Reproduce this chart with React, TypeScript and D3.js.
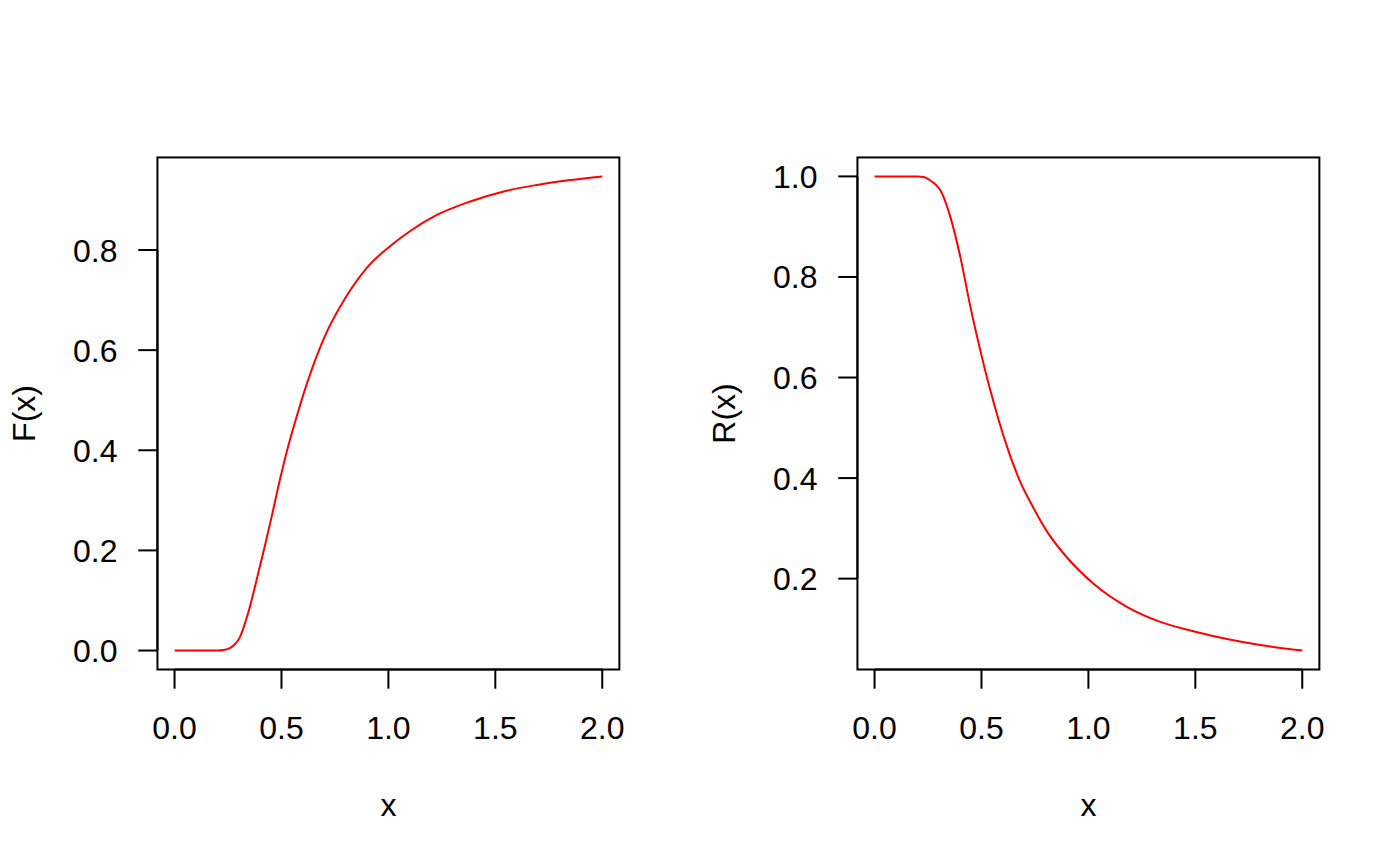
import React from "react";
import * as d3 from "d3";

// values
const xF = [0, 0.1, 0.2, 0.23, 0.261, 0.282, 0.304, 0.342, 0.382, 0.42, 0.456, 0.491, 0.529, 0.573, 0.622, 0.7, 0.8, 0.9, 1.009, 1.102, 1.227, 1.383, 1.539, 1.695, 1.851, 2.0];
const cdf = [0, 0, 0, 0.001, 0.0053, 0.0125, 0.0253, 0.0718, 0.138, 0.205, 0.271, 0.338, 0.404, 0.47, 0.537, 0.625, 0.705, 0.765, 0.808, 0.838, 0.87, 0.897, 0.917, 0.93, 0.9397, 0.947];

const xR = [0, 0.1, 0.2, 0.23, 0.26, 0.285, 0.307, 0.354, 0.401, 0.448, 0.494, 0.541, 0.58, 0.619, 0.681, 0.74, 0.806, 0.9, 1.024, 1.18, 1.336, 1.5, 1.648, 1.804, 2.0];
const surv = [1, 1, 1, 0.999, 0.992, 0.984, 0.973, 0.92, 0.84, 0.741, 0.655, 0.575, 0.516, 0.463, 0.393, 0.343, 0.294, 0.242, 0.19, 0.144, 0.114, 0.0945, 0.08, 0.068, 0.057];

const xTicks = [0, 0.5, 1.0, 1.5, 2.0];
const fTicks = [0, 0.2, 0.4, 0.6, 0.8];
const rTicks = [0.2, 0.4, 0.6, 0.8, 1.0];

const W = 1400;
const H = 866;
const LINE = 38.4; // one margin line in px
const FONT = "'Liberation Sans', Arial, Helvetica, sans-serif";

// R style axis range: pad 4% on each side
function rRange(vals: number[]): [number, number] {
  const [lo, hi] = d3.extent(vals) as [number, number];
  const pad = (hi - lo) * 0.04;
  return [lo - pad, hi + pad];
}

function Panel({ offset, xs, ys, yTicks, ylab }: { offset: number; xs: number[]; ys: number[]; yTicks: number[]; ylab: string }) {
  const left = offset + 4.1 * LINE;
  const right = offset + 700 - 2.1 * LINE;
  const top = 4.1 * LINE;
  const bottom = 669.5;

  const x = d3.scaleLinear().domain(rRange(xs)).range([left, right]);
  const y = d3.scaleLinear().domain(rRange(ys)).range([bottom, top]);
  const fmt = d3.format(".1f");

  const line = d3.line<number>()
    .x((_, i) => x(xs[i]))
    .y((d) => y(d))
    .curve(d3.curveMonotoneX);

  return (
    <g>
      <rect x={left} y={top} width={right - left} height={bottom - top} fill="none" stroke="#000" strokeWidth={2} />
      <path d={line(ys) || ""} fill="none" stroke="#ff0000" strokeWidth={2} />

      {/* x axis */}
      <line x1={x(xTicks[0])} x2={x(xTicks[xTicks.length - 1])} y1={bottom} y2={bottom} stroke="#000" strokeWidth={2} />
      {xTicks.map((t) => (
        <g key={"x" + t}>
          <line x1={x(t)} x2={x(t)} y1={bottom} y2={bottom + 0.5 * LINE} stroke="#000" strokeWidth={2} />
          <text x={x(t)} y={739} textAnchor="middle" fontSize={32} fontFamily={FONT}>{fmt(t)}</text>
        </g>
      ))}
      <text x={(left + right) / 2} y={816} textAnchor="middle" fontSize={32} fontFamily={FONT}>x</text>

      {/* y axis */}
      <line x1={left} x2={left} y1={y(yTicks[0])} y2={y(yTicks[yTicks.length - 1])} stroke="#000" strokeWidth={2} />
      {yTicks.map((t) => (
        <g key={"y" + t}>
          <line x1={left} x2={left - 0.5 * LINE} y1={y(t)} y2={y(t)} stroke="#000" strokeWidth={2} />
          <text x={left - 40} y={y(t)} dy="0.36em" textAnchor="end" fontSize={32} fontFamily={FONT}>{fmt(t)}</text>
        </g>
      ))}
      <text transform={`translate(${offset + 35},${(top + bottom) / 2}) rotate(-90)`} textAnchor="middle" fontSize={32} fontFamily={FONT}>{ylab}</text>
    </g>
  );
}

export default function App() {
  return (
    <svg width={W} height={H} style={{ position: "absolute", left: 0, top: 0, background: "#fff" }}>
      <rect width={W} height={H} fill="#fff" />
      <Panel offset={0} xs={xF} ys={cdf} yTicks={fTicks} ylab="F(x)" />
      <Panel offset={700} xs={xR} ys={surv} yTicks={rTicks} ylab="R(x)" />
    </svg>
  );
}
